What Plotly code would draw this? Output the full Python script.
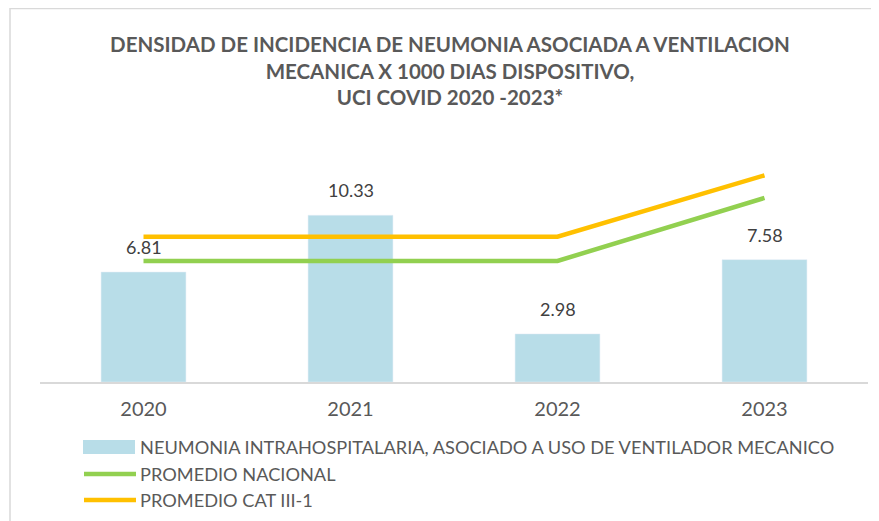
import plotly.graph_objects as go

years = ["2020", "2021", "2022", "2023"]
bar_name = "NEUMONIA INTRAHOSPITALARIA, ASOCIADO A USO DE VENTILADOR MECANICO"
bar_values = [6.81, 10.33, 2.98, 7.58]
nac_name = "PROMEDIO NACIONAL"
nac_values = [7.5, 7.5, 7.5, 11.4]
cat_name = "PROMEDIO CAT III-1"
cat_values = [9.0, 9.0, 9.0, 12.8]

title_lines = ["DENSIDAD DE INCIDENCIA DE NEUMONIA ASOCIADA A VENTILACION",
               "MECANICA X 1000 DIAS DISPOSITIVO,",
               "UCI COVID 2020 -2023*"]

BAR_C = "#b8dde8"
NAC_C = "#92d050"
CAT_C = "#ffc000"
TXT_C = "#595959"
FONT = "Lato, Open Sans, sans-serif"

# page body has an 8px margin; positions below are in figure pixels
OFF = 8
W, H = 879, 521
L, R, T, B = 40 - OFF, 19, 156 - OFF, H - (382 - OFF)
pw, ph = W - L - R, H - T - B

fig = go.Figure()
fig.add_trace(go.Bar(x=years, y=bar_values, name=bar_name, marker_color=BAR_C,
                     width=0.41, showlegend=False))
fig.add_trace(go.Scatter(x=years, y=nac_values, name=nac_name, mode="lines",
                         line=dict(color=NAC_C, width=4.5), showlegend=False))
fig.add_trace(go.Scatter(x=years, y=cat_values, name=cat_name, mode="lines",
                         line=dict(color=CAT_C, width=4.5), showlegend=False))

def px_x(x):
    return (x - OFF - L) / pw

def px_y(y):
    return (H - B - (y - OFF)) / ph

annotations = []
for i, v in enumerate(bar_values):
    annotations.append(dict(x=i, y=v, xref="x", yref="y", text=f"{v:.2f}",
                            showarrow=False, yanchor="bottom", yshift=12,
                            font=dict(size=18, color="#404040", family=FONT)))

shapes = [dict(type="rect", xref="paper", yref="paper",
               x0=px_x(10), x1=px_x(920), y0=px_y(560), y1=px_y(8.5),
               line=dict(color="#d9d9d9", width=1.5), fillcolor="rgba(0,0,0,0)", layer="below")]
legend_items = [(bar_name, "bar", BAR_C, 447), (nac_name, "line", NAC_C, 474), (cat_name, "line", CAT_C, 500)]
for name, kind, col, yc in legend_items:
    if kind == "bar":
        shapes.append(dict(type="rect", xref="paper", yref="paper",
                           x0=px_x(83), x1=px_x(135), y0=px_y(yc + 7), y1=px_y(yc - 7),
                           fillcolor=col, line=dict(width=0)))
    else:
        shapes.append(dict(type="line", xref="paper", yref="paper",
                           x0=px_x(84), x1=px_x(136), y0=px_y(yc), y1=px_y(yc),
                           line=dict(color=col, width=4.5)))
    annotations.append(dict(xref="paper", yref="paper", x=px_x(138), y=px_y(yc),
                            xanchor="left", yanchor="middle", showarrow=False,
                            text=name, font=dict(size=18.2, color=TXT_C, family=FONT)))

fig.update_layout(
    width=W, height=H,
    margin=dict(l=L, r=R, t=T, b=B),
    paper_bgcolor="white", plot_bgcolor="white",
    title=dict(text="<br>".join(title_lines), x=(450 - OFF) / W, xanchor="center",
               y=1 - 44 / H, yanchor="top",
               font=dict(size=20.5, color=TXT_C, family=FONT, weight="bold")),
    xaxis=dict(type="category", categoryarray=years, range=[-0.5, 3.5], showgrid=False,
               showline=True, linecolor="#d9d9d9", linewidth=2,
               ticks="", ticklabelstandoff=8, tickfont=dict(size=20, color=TXT_C, family=FONT)),
    yaxis=dict(range=[0, 14], visible=False, showgrid=False),
    shapes=shapes, annotations=annotations,
    bargap=0.59,
)

fig.write_html("out.html")
